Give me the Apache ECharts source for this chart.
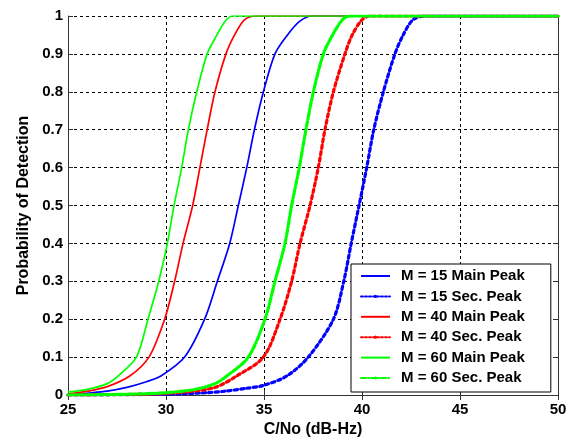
<!DOCTYPE html>
<html>
<head>
<meta charset="utf-8">
<script src="https://cdn.jsdelivr.net/npm/echarts@6/dist/echarts.min.js"></script>
<style>
html,body{margin:0;padding:0;background:#fff;}
#chart{width:572px;height:443px;}
</style>
</head>
<body>
<div id="chart"></div>
<script>
// C/No (dB-Hz) values and probability of detection
const m15MainX = [25, 26, 27, 28, 29, 29.74, 30.95, 31.97, 32.62, 33.25, 33.69, 34.12, 34.51, 34.97, 35.56, 36.2, 36.8, 37.43, 50];
const m15MainP = [0.001, 0.005, 0.01, 0.02, 0.035, 0.05, 0.1, 0.2, 0.3, 0.4, 0.5, 0.6, 0.7, 0.8, 0.9, 0.95, 0.985, 1, 1];

const m15SecX = [25, 30, 32, 33, 34, 34.95, 36.16, 37.26, 38.54, 39.07, 39.45, 39.85, 40.24, 40.6, 41.09, 41.68, 42.1, 42.6, 43.2, 50];
const m15SecP = [0, 0.002, 0.006, 0.01, 0.017, 0.025, 0.05, 0.1, 0.2, 0.3, 0.4, 0.5, 0.6, 0.7, 0.8, 0.9, 0.95, 0.99, 1, 1];

const m40MainX = [25, 26, 27, 28.15, 29.13, 29.93, 30.44, 30.87, 31.36, 31.73, 32.1, 32.5, 33.06, 33.5, 34, 34.6, 50];
const m40MainP = [0.003, 0.01, 0.022, 0.05, 0.1, 0.2, 0.3, 0.4, 0.5, 0.6, 0.7, 0.8, 0.9, 0.95, 0.99, 1, 1];

const m40SecX = [25, 29, 31, 32.5, 33.6, 34.97, 35.82, 36.41, 36.84, 37.35, 37.77, 38.11, 38.54, 39.13, 39.5, 40, 40.4, 50];
const m40SecP = [0, 0.002, 0.008, 0.02, 0.05, 0.1, 0.2, 0.3, 0.4, 0.5, 0.6, 0.7, 0.8, 0.9, 0.95, 0.99, 1, 1];

const m60MainX = [25, 26, 27, 27.55, 28.49, 29.08, 29.63, 30.07, 30.41, 30.8, 31.14, 31.57, 32.1, 32.6, 33, 33.4, 50];
const m60MainP = [0.008, 0.015, 0.03, 0.05, 0.1, 0.2, 0.3, 0.4, 0.5, 0.6, 0.7, 0.8, 0.9, 0.95, 0.985, 1, 1];

const m60SecX = [25, 28, 30, 31.5, 32.5, 33.1, 34.2, 35.05, 35.56, 36.07, 36.41, 36.8, 37.14, 37.52, 38.03, 38.5, 39, 39.4, 50];
const m60SecP = [0, 0.002, 0.006, 0.015, 0.03, 0.05, 0.1, 0.2, 0.3, 0.4, 0.5, 0.6, 0.7, 0.8, 0.9, 0.95, 0.99, 1, 1];

const seriesNames = ['M = 15 Main Peak', 'M = 15 Sec. Peak', 'M = 40 Main Peak', 'M = 40 Sec. Peak', 'M = 60 Main Peak', 'M = 60 Sec. Peak'];
const xTicks = [25, 30, 35, 40, 45, 50];
const yTicks = [0, 0.1, 0.2, 0.3, 0.4, 0.5, 0.6, 0.7, 0.8, 0.9, 1];

const BLUE = '#0000ff', RED = '#ff0000', GREEN = '#00ff00';
const FONT = 'Liberation Sans, Arial, sans-serif';

function pairs(xs, ps) { return xs.map((x, i) => [x, ps[i]]); }

function mainSeries(name, xs, ps, color) {
  return {
    name, type: 'line', data: pairs(xs, ps), xAxisIndex: 0, yAxisIndex: 0,
    symbol: 'circle', symbolSize: 4, showSymbol: false,
    smooth: 0.3, color,
    itemStyle: { color },
    lineStyle: { color, width: 1.7, type: 'solid' }
  };
}
function secSeries(name, xs, ps, color, dash) {
  return {
    name, type: 'line', data: pairs(xs, ps), xAxisIndex: 0, yAxisIndex: 0,
    symbol: 'circle', symbolSize: 4, showSymbol: false,
    smooth: 0.3, color,
    itemStyle: { color },
    lineStyle: { color, width: 3.2, type: dash, cap: 'round' }
  };
}

const gridDash = { color: '#000', width: 1, type: [3, 3] };
const axisLineStyle = { show: true, lineStyle: { color: '#333', width: 1 } };
const tickStyle = { show: true, inside: true, length: 5, lineStyle: { color: '#333' } };

const legendData = seriesNames.map((n, i) => (i % 2 === 0)
  ? { name: n, itemStyle: { opacity: 0 } }
  : { name: n });

const option = {
  backgroundColor: '#fff',
  animation: false,
  grid: { left: 68, top: 16, right: 14, bottom: 46, containLabel: false },
  legend: {
    orient: 'vertical',
    left: 351, top: 264,
    padding: [4.5, 26, 6.5, 9],
    itemGap: 5.4,
    itemWidth: 29, itemHeight: 4,
    backgroundColor: '#fff',
    borderColor: '#000', borderWidth: 1, borderRadius: 0,
    lineStyle: { width: 2 },
    data: legendData,
    textStyle: { fontFamily: FONT, fontWeight: 'bold', fontSize: 15, lineHeight: 15, color: '#000', padding: [0, 0, 0, 6] }
  },
  xAxis: [
    {
      type: 'value', min: 25, max: 50, interval: 5, position: 'bottom',
      name: 'C/No (dB-Hz)', nameLocation: 'middle', nameGap: 27,
      nameTextStyle: { fontFamily: FONT, fontWeight: 'bold', fontSize: 16, color: '#000' },
      axisLine: axisLineStyle,
      axisTick: tickStyle,
      axisLabel: { fontFamily: FONT, fontWeight: 'bold', fontSize: 15, color: '#000', margin: 7,
        formatter: v => xTicks.includes(v) ? String(v) : '' },
      splitLine: { show: true, lineStyle: gridDash }
    },
    {
      type: 'value', min: 25, max: 50, interval: 5, position: 'top',
      axisLine: axisLineStyle, axisTick: tickStyle,
      axisLabel: { show: false }, splitLine: { show: false }
    }
  ],
  yAxis: [
    {
      type: 'value', min: 0, max: 1, interval: 0.1, position: 'left',
      name: 'Probability of Detection', nameLocation: 'middle', nameGap: 35,
      nameTextStyle: { fontFamily: FONT, fontWeight: 'bold', fontSize: 16, color: '#000' },
      axisLine: axisLineStyle,
      axisTick: tickStyle,
      axisLabel: { fontFamily: FONT, fontWeight: 'bold', fontSize: 15, color: '#000', margin: 5,
        formatter: v => { const t = yTicks.find(y => Math.abs(y - v) < 1e-6); return t === undefined ? '' : String(t); } },
      splitLine: { show: true, lineStyle: gridDash }
    },
    {
      type: 'value', min: 0, max: 1, interval: 0.1, position: 'right',
      axisLine: axisLineStyle, axisTick: tickStyle,
      axisLabel: { show: false }, splitLine: { show: false }
    }
  ],
  series: [
    mainSeries(seriesNames[0], m15MainX, m15MainP, BLUE),
    secSeries(seriesNames[1], m15SecX, m15SecP, BLUE, 'dotted'),
    mainSeries(seriesNames[2], m40MainX, m40MainP, RED),
    secSeries(seriesNames[3], m40SecX, m40SecP, RED, 'dotted'),
    mainSeries(seriesNames[4], m60MainX, m60MainP, GREEN),
    secSeries(seriesNames[5], m60SecX, m60SecP, GREEN, [5, 2, 1, 2])
  ]
};

const chart = echarts.init(document.getElementById('chart'), null, { renderer: 'canvas' });
chart.setOption(option);
</script>
</body>
</html>
